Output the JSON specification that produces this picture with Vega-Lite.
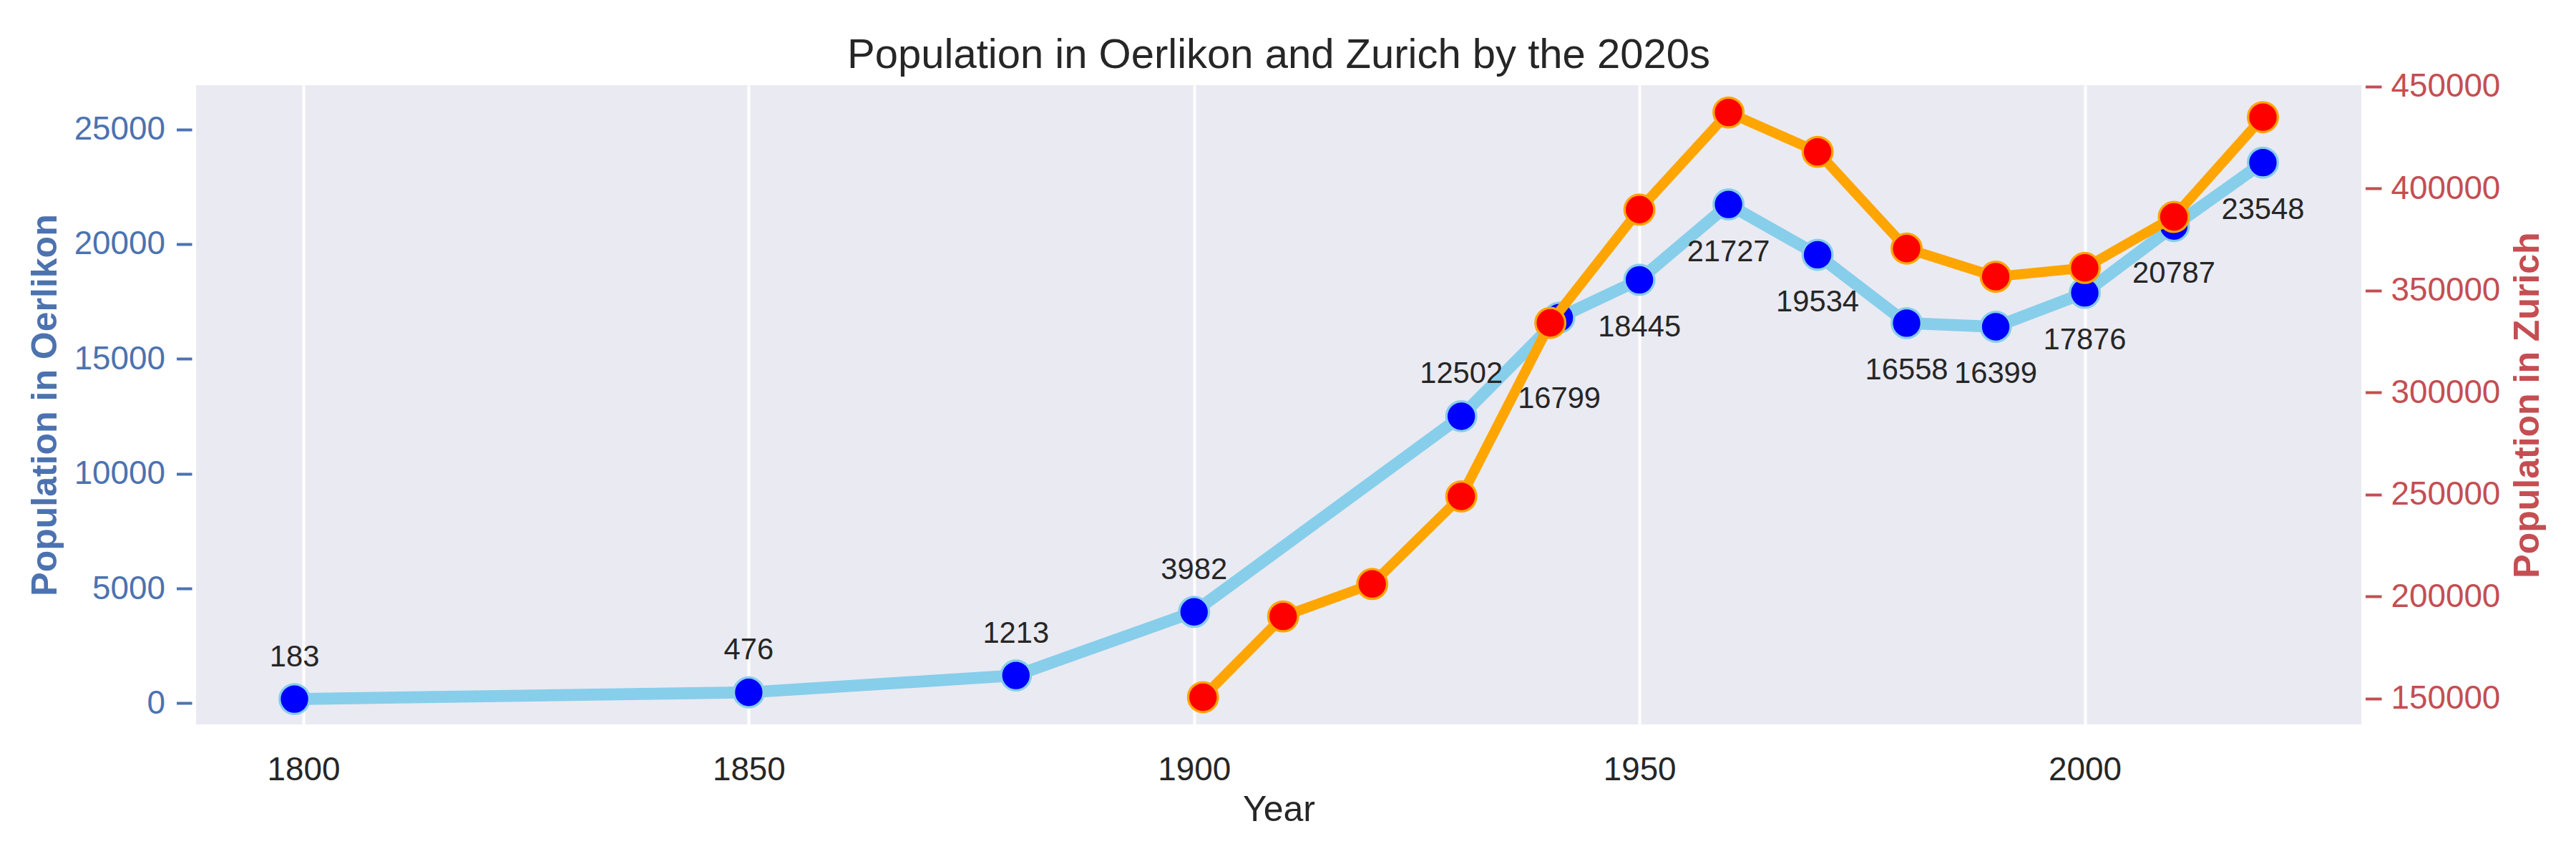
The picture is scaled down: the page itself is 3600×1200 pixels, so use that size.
{
  "$schema": "https://vega.github.io/schema/vega-lite/v6.json",
  "width": 3026,
  "height": 893,
  "autosize": {"type": "none"},
  "padding": {"left": 274, "top": 119, "right": 300, "bottom": 188},
  "background": "white",
  "config": {
    "font": "Liberation Sans",
    "view": {"fill": "#eaeaf2", "stroke": null},
    "axis": {"domain": false, "grid": false, "labelFont": "Liberation Sans", "titleFont": "Liberation Sans"}
  },
  "title": {
    "text": "Population in Oerlikon and Zurich by the 2020s",
    "font": "Liberation Sans",
    "fontSize": 58,
    "fontWeight": "normal",
    "color": "#262626",
    "anchor": "middle",
    "baseline": "alphabetic",
    "offset": -55
  },
  "datasets": {
    "oerlikon": [
      {"year": 1799, "population": 183},
      {"year": 1850, "population": 476},
      {"year": 1880, "population": 1213},
      {"year": 1900, "population": 3982},
      {"year": 1930, "population": 12502},
      {"year": 1941, "population": 16799},
      {"year": 1950, "population": 18445},
      {"year": 1960, "population": 21727},
      {"year": 1970, "population": 19534},
      {"year": 1980, "population": 16558},
      {"year": 1990, "population": 16399},
      {"year": 2000, "population": 17876},
      {"year": 2010, "population": 20787},
      {"year": 2020, "population": 23548}
    ],
    "zurich": [
      {"year": 1901, "population": 150700},
      {"year": 1910, "population": 190300},
      {"year": 1920, "population": 206200},
      {"year": 1930, "population": 249100},
      {"year": 1940, "population": 334200},
      {"year": 1950, "population": 389700},
      {"year": 1960, "population": 437300},
      {"year": 1970, "population": 418000},
      {"year": 1980, "population": 370600},
      {"year": 1990, "population": 356800},
      {"year": 2000, "population": 361100},
      {"year": 2010, "population": 386100},
      {"year": 2020, "population": 435000}
    ]
  },
  "layer": [
    {
      "data": {"name": "oerlikon"},
      "encoding": {
        "x": {
          "field": "year", "type": "quantitative",
          "scale": {"domain": [1787.95, 2031.05], "nice": false, "zero": false},
          "axis": {
            "values": [1800, 1850, 1900, 1950, 2000], "format": "d",
            "grid": true, "gridColor": "#ffffff", "gridWidth": 4, "gridOpacity": 1,
            "ticks": false, "labelPadding": 41, "labelFontSize": 45.8, "labelColor": "#262626",
            "title": "Year", "titleFontSize": 50, "titleFontWeight": "normal", "titleColor": "#262626", "titlePadding": 9
          }
        },
        "y": {
          "field": "population", "type": "quantitative",
          "scale": {"domain": [-920, 26920], "nice": false, "zero": false},
          "axis": {
            "orient": "left", "values": [0, 5000, 10000, 15000, 20000, 25000], "format": "d",
            "offset": 6, "ticks": true, "tickSize": 21.5, "tickWidth": 4, "tickColor": "#4c72b0",
            "labelColor": "#4c72b0", "labelFontSize": 45.8, "labelPadding": 16,
            "title": "Population in Oerlikon", "titleColor": "#4c72b0", "titleFontSize": 50,
            "titleFontWeight": "bold", "titlePadding": 15
          }
        }
      },
      "layer": [
        {"mark": {"type": "line", "color": "#87ceeb", "strokeWidth": 16.7}},
        {"mark": {"type": "circle", "fill": "#0000ff", "stroke": "#87ceeb", "strokeWidth": 3.3, "size": 1735, "opacity": 1, "fillOpacity": 1}},
        {
          "transform": [{"filter": "datum.year <= 1930"}],
          "mark": {"type": "text", "fontSize": 41.7, "color": "#262626", "align": "center", "baseline": "middle", "dy": -59},
          "encoding": {"text": {"field": "population", "type": "quantitative", "format": "d"}}
        },
        {
          "transform": [{"filter": "datum.year > 1930 && datum.year < 1945"}],
          "mark": {"type": "text", "fontSize": 41.7, "color": "#262626", "align": "center", "baseline": "middle", "dy": 113},
          "encoding": {"text": {"field": "population", "type": "quantitative", "format": "d"}}
        },
        {
          "transform": [{"filter": "datum.year >= 1945"}],
          "mark": {"type": "text", "fontSize": 41.7, "color": "#262626", "align": "center", "baseline": "middle", "dy": 66},
          "encoding": {"text": {"field": "population", "type": "quantitative", "format": "d"}}
        }
      ]
    },
    {
      "data": {"name": "zurich"},
      "encoding": {
        "x": {
          "field": "year", "type": "quantitative",
          "scale": {"domain": [1787.95, 2031.05], "nice": false, "zero": false},
          "axis": {
            "values": [1800, 1850, 1900, 1950, 2000], "format": "d",
            "grid": true, "gridColor": "#ffffff", "gridWidth": 4, "gridOpacity": 1,
            "ticks": false, "labelPadding": 41, "labelFontSize": 45.8, "labelColor": "#262626",
            "title": "Year", "titleFontSize": 50, "titleFontWeight": "normal", "titleColor": "#262626", "titlePadding": 9
          }
        },
        "y": {
          "field": "population", "type": "quantitative",
          "scale": {"domain": [137360, 450670], "nice": false, "zero": false},
          "axis": {
            "orient": "right", "values": [150000, 200000, 250000, 300000, 350000, 400000, 450000], "format": "d",
            "offset": 5.5, "ticks": true, "tickSize": 22.5, "tickWidth": 4, "tickColor": "#c44e52",
            "labelColor": "#c44e52", "labelFontSize": 45.8, "labelPadding": 13,
            "title": "Population in Zurich", "titleColor": "#c44e52", "titleFontSize": 50,
            "titleFontWeight": "bold", "titleAngle": 270, "titleBaseline": "top", "titlePadding": 14
          }
        }
      },
      "layer": [
        {"mark": {"type": "line", "color": "#ffa500", "strokeWidth": 14}},
        {"mark": {"type": "circle", "fill": "#ff0000", "stroke": "#ffa500", "strokeWidth": 3.3, "size": 1735, "opacity": 1, "fillOpacity": 1}}
      ]
    }
  ],
  "resolve": {"scale": {"y": "independent"}}
}
